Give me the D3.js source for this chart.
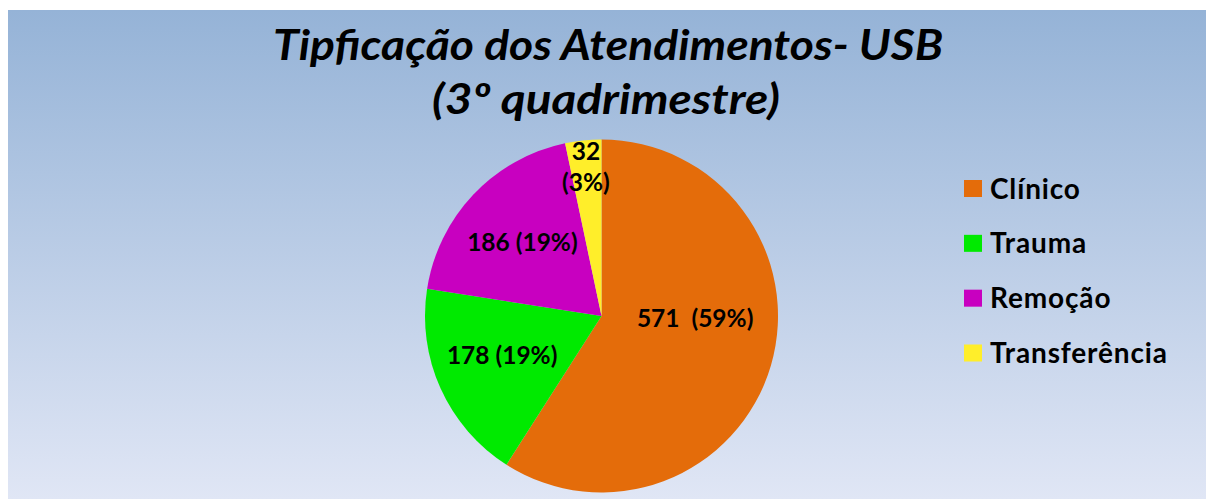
<!DOCTYPE html>
<html><head><meta charset="utf-8">
<script src="https://cdn.jsdelivr.net/npm/d3@7"></script>
<style>html,body{margin:0;padding:0;background:#fff;}svg{display:block;}text{white-space:pre;}</style>
</head><body>
<svg id="chart" width="1207" height="499"></svg>
<script>
const categories = ["Clínico", "Trauma", "Remoção", "Transferência"];
const values = [571, 178, 186, 32];
const labelTexts = [["571  (59%)"], ["178 (19%)"], ["186 (19%)"], ["32", "(3%)"]];
const colors = ["#E46C0A", "#00EA00", "#C800C0", "#FFEE2A"];
const titleLines = ["Tipficação dos Atendimentos- USB", "(3º quadrimestre)"];

const W = 1207, H = 499;
const svg = d3.select("#chart");
const font = "Lato, 'Open Sans', sans-serif";

const defs = svg.append("defs");
const grad = defs.append("linearGradient").attr("id", "bg").attr("x1", 0).attr("y1", 0).attr("x2", 0).attr("y2", 1);
grad.append("stop").attr("offset", "0%").attr("stop-color", "#95B3D7");
grad.append("stop").attr("offset", "100%").attr("stop-color", "#E0E6F5");
svg.append("rect").attr("x", 8).attr("y", 10).attr("width", W - 9).attr("height", H - 10).attr("fill", "url(#bg)");

// Title
const titleG = svg.append("g").attr("font-family", font).attr("font-weight", "bold").attr("font-style", "italic")
  .attr("font-size", 42).attr("fill", "#000").attr("text-anchor", "middle");
const titleWidths = [670, 348];
const titleX = [608, 606];
const titleY = [60, 114];
titleLines.forEach((t, i) => {
  titleG.append("text").attr("x", titleX[i]).attr("y", titleY[i])
    .attr("textLength", titleWidths[i]).attr("lengthAdjust", "spacingAndGlyphs").text(t);
});

// Pie
const cx = 601.5, cy = 316, R = 176.5;
const pie = d3.pie().sort(null).value(d => d)(values);
const arc = d3.arc().innerRadius(0).outerRadius(R);
const g = svg.append("g").attr("transform", `translate(${cx},${cy})`);
g.selectAll("path").data(pie).join("path")
  .attr("d", arc).attr("fill", (d, i) => colors[i]);

const labelR = [109, 109, 109, 150];
const nudge = [[-11, -28], [0, -5], [0, 1], [0, 0]];
const lg = g.append("g").attr("font-family", font).attr("font-weight", "bold").attr("font-size", 24.5)
  .attr("text-anchor", "middle").attr("fill", "#000");
pie.forEach((d, i) => {
  const a = (d.startAngle + d.endAngle) / 2;
  const x = labelR[i] * Math.sin(a) + nudge[i][0];
  const y = -labelR[i] * Math.cos(a) + nudge[i][1];
  const lines = labelTexts[i];
  const lh = 31;
  const t = lg.append("text").attr("x", x).attr("y", y + 8.5 - (lines.length - 1) * lh / 2);
  lines.forEach((ln, j) => t.append("tspan").attr("x", x).attr("dy", j === 0 ? 0 : lh).text(ln));
});

// Legend
const leg = svg.append("g").attr("font-family", font).attr("font-weight", "bold").attr("font-size", 28)
  .attr("letter-spacing", 0.85);
const legY = d3.scalePoint().domain(categories).range([188.5, 353]);
categories.forEach((c, i) => {
  const y = legY(c);
  leg.append("rect").attr("x", 964).attr("y", y - 8.5).attr("width", 18).attr("height", 17).attr("fill", colors[i]);
  leg.append("text").attr("x", 990).attr("y", y + 10).attr("fill", "#000").text(c);
});
</script>
</body></html>
